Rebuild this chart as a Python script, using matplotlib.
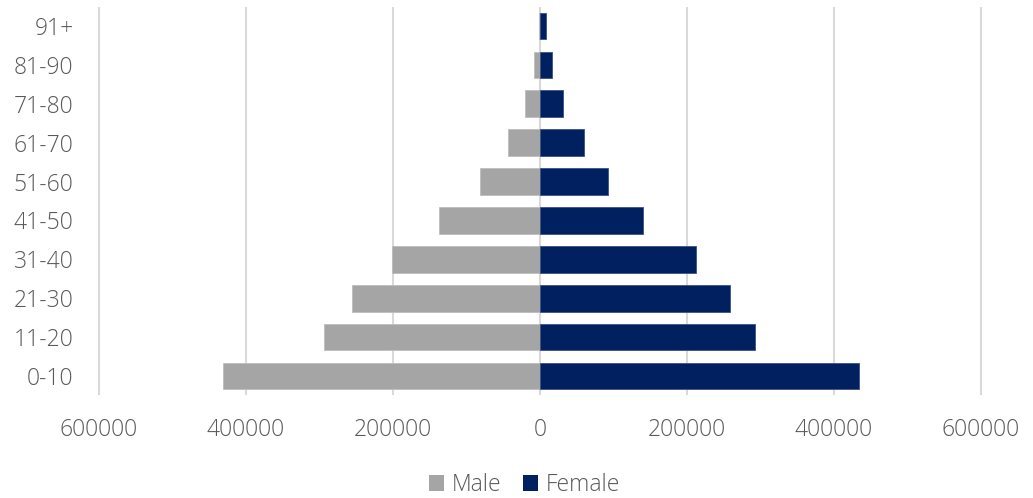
import matplotlib
matplotlib.use("Agg")
import matplotlib.pyplot as plt
from matplotlib.ticker import FuncFormatter
from matplotlib.patches import Patch

categories = ["0-10", "11-20", "21-30", "31-40", "41-50", "51-60", "61-70", "71-80", "81-90", "91+"]
male = [431700, 293900, 256200, 201000, 137400, 81600, 43100, 20400, 7600, 2000]
female = [433600, 292500, 258500, 211800, 140000, 93000, 60400, 31800, 15900, 7800]
x_ticks = [-600000, -400000, -200000, 0, 200000, 400000, 600000]

plt.rcParams['font.family'] = ['Open Sans', 'DejaVu Sans']

fig = plt.figure(figsize=(10.33, 4.98), dpi=100)
pad = 2500
left_px, right_px = 99 - 147 * pad / 200000, 981 + 147 * pad / 200000
ax = fig.add_axes([left_px / 1033, 1 - 395.4 / 498, (right_px - left_px) / 1033, (395.4 - 6.6) / 498])

y = list(range(len(categories)))
ax.barh(y, [-v for v in male], height=0.69, color="#A5A5A5", edgecolor="#BDBDBD", linewidth=0.6, zorder=3, label="Male")
ax.barh(y, female, height=0.69, color="#002060", edgecolor="#3A5285", linewidth=0.6, zorder=3, label="Female")

ax.set_xlim(-600000 - pad, 600000 + pad)
ax.set_ylim(-0.5, len(categories) - 0.5)
ax.set_xticks(x_ticks)
ax.xaxis.set_major_formatter(FuncFormatter(lambda v, p: f"{abs(int(round(v)))}"))
ax.set_yticks(y)
ax.set_yticklabels(categories)
ax.grid(axis="x", color="#D9D9D9", linewidth=1.5, zorder=0)
ax.set_axisbelow(True)
for s in ax.spines.values():
    s.set_visible(False)
ax.tick_params(axis="both", length=0, colors="#595959", labelsize=16.5)
ax.tick_params(axis="x", pad=16)
ax.tick_params(axis="y", pad=17)
for lab in ax.get_xticklabels() + ax.get_yticklabels():
    lab.set_fontweight("light")

handles = [Patch(facecolor="#A5A5A5", label="Male"), Patch(facecolor="#002060", label="Female")]
leg = fig.legend(handles=handles, loc="center", bbox_to_anchor=(0.508, 0.026), ncol=2, frameon=False,
                 fontsize=16.5, handlelength=0.65, handleheight=0.65, handletextpad=0.33, columnspacing=0.95,
                 borderpad=0, borderaxespad=0)
for t in leg.get_texts():
    t.set_color("#595959")
    t.set_fontweight("light")

fig.savefig("out.png", dpi=100)
